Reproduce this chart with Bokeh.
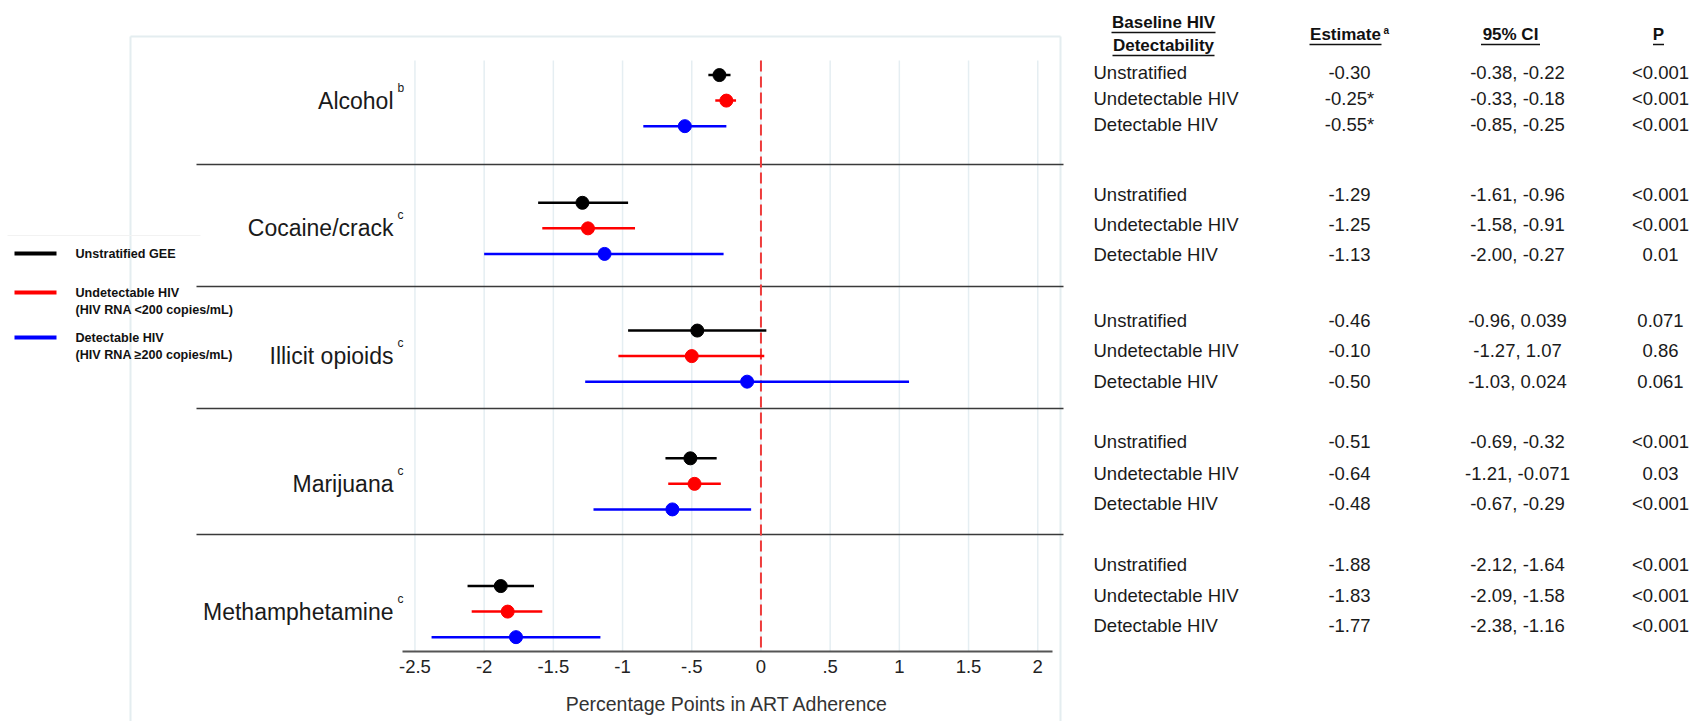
from bokeh.plotting import figure
from bokeh.models import (ColumnDataSource, Range1d, LabelSet, Label, LinearAxis,
                          FixedTicker)
from bokeh.core.properties import value
from bokeh.embed import file_html
from bokeh.resources import INLINE

# ---------------- data ----------------
substances = ["Alcohol", "Cocaine/crack", "Illicit opioids", "Marijuana", "Methamphetamine"]
footnotes = ["b", "c", "c", "c", "c"]

legend_main = ["Unstratified GEE", "Undetectable HIV", "Detectable HIV"]
legend_sub = ["", "(HIV RNA <200 copies/mL)", "(HIV RNA \u2265200 copies/mL)"]
series_colors = ["#000000", "#ff0000", "#0000ff"]

# values as drawn in the forest plot
unstrat_est = [-0.30, -1.29, -0.46, -0.51, -1.88]
unstrat_lo = [-0.38, -1.61, -0.96, -0.69, -2.12]
unstrat_hi = [-0.22, -0.96, 0.039, -0.32, -1.64]
undet_est = [-0.25, -1.25, -0.50, -0.48, -1.83]
undet_lo = [-0.33, -1.58, -1.03, -0.67, -2.09]
undet_hi = [-0.18, -0.91, 0.024, -0.29, -1.58]
det_est = [-0.55, -1.13, -0.10, -0.64, -1.77]
det_lo = [-0.85, -2.00, -1.27, -1.21, -2.38]
det_hi = [-0.25, -0.27, 1.07, -0.071, -1.16]

tick_values = [-2.5, -2, -1.5, -1, -0.5, 0, 0.5, 1, 1.5, 2]
tick_labels = ["-2.5", "-2", "-1.5", "-1", "-.5", "0", ".5", "1", "1.5", "2"]

# table
table_rows = ["Unstratified", "Undetectable HIV", "Detectable HIV"] * 5
table_est = ["-0.30", "-0.25*", "-0.55*", "-1.29", "-1.25", "-1.13",
             "-0.46", "-0.10", "-0.50", "-0.51", "-0.64", "-0.48",
             "-1.88", "-1.83", "-1.77"]
table_ci = ["-0.38, -0.22", "-0.33, -0.18", "-0.85, -0.25",
            "-1.61, -0.96", "-1.58, -0.91", "-2.00, -0.27",
            "-0.96, 0.039", "-1.27, 1.07", "-1.03, 0.024",
            "-0.69, -0.32", "-1.21, -0.071", "-0.67, -0.29",
            "-2.12, -1.64", "-2.09, -1.58", "-2.38, -1.16"]
table_p = ["<0.001", "<0.001", "<0.001", "<0.001", "<0.001", "0.01",
           "0.071", "0.86", "0.061", "<0.001", "0.03", "<0.001",
           "<0.001", "<0.001", "<0.001"]

# ---------------- layout helpers (page pixels -> data) ----------------
W, H = 1705, 721
FL, FR, FT, FB = 402, 1052, 60, 651          # forest panel edges in page px
X0, PXU = -2.59, 138.4                       # x data at panel left, px per unit
Y0, PYU = -0.57, 25.55                       # y data at panel top, px per row


def X(px):
    return X0 + (px - FL) / PXU


def Y(py):
    return Y0 + (py - FT) / PYU


FONT = "Liberation Sans"

p = figure(width=W, height=H,
           x_range=Range1d(X(0), X(W)), y_range=Range1d(Y(H), Y(0)),
           min_border=0, x_axis_location=None, y_axis_location=None,
           output_backend="svg", toolbar_location=None)
p.outline_line_color = None
p.background_fill_color = "white"
p.border_fill_color = "white"
p.grid.visible = False

# light frame around the plot panel
frame_col = "#e4edf0"
p.segment(x0=[X(130), X(130), X(1060)], y0=[Y(36), Y(36), Y(36)],
          x1=[X(1060), X(130), X(1060)], y1=[Y(36), Y(760), Y(760)],
          line_color=frame_col, line_width=2)

# vertical grid lines
p.segment(x0=tick_values, y0=[Y(FT)] * len(tick_values),
          x1=tick_values, y1=[Y(FB)] * len(tick_values),
          line_color="#e5eef2", line_width=1.5)

# x axis limited to the forest panel
ax = LinearAxis(fixed_location=Y(FB), bounds=(X(FL), X(FR)),
                ticker=FixedTicker(ticks=tick_values))
ax.major_label_overrides = {float(v): s for v, s in zip(tick_values, tick_labels)}
ax.axis_line_color = "#555555"
ax.axis_line_width = 2
ax.major_tick_line_color = None
ax.minor_tick_line_color = None
ax.major_tick_out = 0
ax.major_tick_in = 0
ax.major_label_standoff = 8
ax.major_label_text_font = FONT
ax.major_label_text_font_size = "18.5px"
ax.major_label_text_color = "#222222"
ax.axis_label = "Percentage Points in ART Adherence"
ax.axis_label_text_font = FONT
ax.axis_label_text_font_size = "19.5px"
ax.axis_label_text_font_style = "normal"
ax.axis_label_text_color = "#333333"
ax.axis_label_standoff = 17
p.add_layout(ax, "below")

# group separators
sep_py = [164, 286, 408, 534]
p.segment(x0=[X(196)] * 4, y0=[Y(v) for v in sep_py], x1=[X(1063)] * 4,
          y1=[Y(v) for v in sep_py], line_color="#3a3a3a", line_width=1.6)

# zero reference line
p.segment(x0=[0], y0=[Y(FT)], x1=[0], y1=[Y(FB)], line_color="#ee3b3b",
          line_width=2, line_dash="11 5")

# series
series = [(unstrat_est, unstrat_lo, unstrat_hi),
          (undet_est, undet_lo, undet_hi),
          (det_est, det_lo, det_hi)]
for k, (est, lo, hi) in enumerate(series):
    ys = [g * 5 + k for g in range(len(substances))]
    src = ColumnDataSource(dict(y=ys, est=est, lo=lo, hi=hi))
    p.segment(x0="lo", y0="y", x1="hi", y1="y", source=src,
              line_color=series_colors[k], line_width=2.5)
    p.scatter(x="est", y="y", source=src, size=13, marker="circle",
              fill_color=series_colors[k], line_color=series_colors[k])

# category labels
cat_src = ColumnDataSource(dict(x=[X(393)] * 5, xs=[X(397)] * 5,
                                y=[g * 5 + 1 for g in range(5)],
                                name=substances, fn=footnotes))
p.add_layout(LabelSet(x="x", y="y", text="name", source=cat_src, text_align="right",
                      text_baseline="middle", text_font=value(FONT),
                      text_font_size="23px", text_color="#1a1a1a"))
p.add_layout(LabelSet(x="xs", y="y", text="fn", source=cat_src, text_align="left",
                      text_baseline="middle", y_offset=13, text_font=value(FONT),
                      text_font_size="12px", text_color="#1a1a1a"))

# legend (drawn on the left)
leg_y = [253, 292, 337]
p.segment(x0=[X(14)] * 3, y0=[Y(v) for v in leg_y], x1=[X(56)] * 3,
          y1=[Y(v) for v in leg_y], line_color=series_colors, line_width=4)
p.segment(x0=[X(7)], y0=[Y(235)], x1=[X(200)], y1=[Y(235)],
          line_color="#f2f2f2", line_width=1)
for k in range(3):
    p.add_layout(Label(x=X(75), y=Y(leg_y[k]), text=legend_main[k], text_font=FONT,
                       text_font_size="12.6px", text_font_style="bold",
                       text_baseline="middle", text_color="#111111"))
    if legend_sub[k]:
        p.add_layout(Label(x=X(75), y=Y(leg_y[k] + 17), text=legend_sub[k], text_font=FONT,
                           text_font_size="12.6px", text_font_style="bold",
                           text_baseline="middle", text_color="#111111"))

# table header
hdr = [("Baseline HIV", 1163, 22), ("Detectability", 1163, 45),
       ("Estimate", 1345, 34), ("95% CI", 1510, 34), ("P", 1658, 34)]
hdr_w = {"Baseline HIV": 104, "Detectability": 102, "Estimate": 72, "95% CI": 59, "P": 11}
ul_x0, ul_x1, ul_y = [], [], []
for txt, cx, cy in hdr:
    p.add_layout(Label(x=X(cx), y=Y(cy), text=txt, text_font=FONT, text_font_size="17px",
                       text_font_style="bold", text_align="center", text_baseline="middle",
                       text_color="#111111"))
    w = hdr_w[txt]
    ul_x0.append(X(cx - w / 2))
    ul_x1.append(X(cx + w / 2))
    ul_y.append(Y(cy + 10))
p.segment(x0=ul_x0, y0=ul_y, x1=ul_x1, y1=ul_y, line_color="#111111", line_width=1.3)
p.add_layout(Label(x=X(1383), y=Y(30), text="a", text_font=FONT, text_font_size="10px",
                   text_font_style="bold", text_align="left", text_baseline="middle",
                   text_color="#111111"))

# table body
row_py = [72, 98, 124, 194, 224, 254, 320, 350, 381, 441, 473, 503, 564, 595, 625]
tab_src = ColumnDataSource(dict(y=[Y(v) for v in row_py],
                                xr=[X(1093)] * 15, xe=[X(1349)] * 15,
                                xc=[X(1517)] * 15, xp=[X(1660)] * 15,
                                row=table_rows, est=table_est, ci=table_ci, pv=table_p))
for xcol, tcol, align in [("xr", "row", "left"), ("xe", "est", "center"),
                          ("xc", "ci", "center"), ("xp", "pv", "center")]:
    p.add_layout(LabelSet(x=xcol, y="y", text=tcol, source=tab_src, text_align=align,
                          text_baseline="middle", text_font=value(FONT),
                          text_font_size="18.5px", text_color="#1a1a1a"))

open("out.html", "w").write(file_html(p, INLINE))
